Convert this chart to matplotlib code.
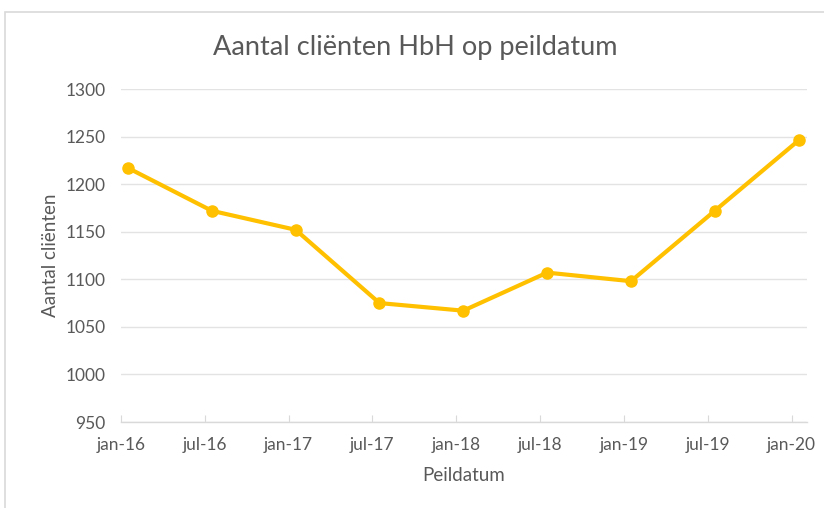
import matplotlib.pyplot as plt
from matplotlib.patches import Rectangle

# data (months since jan-16, points sit mid-month)
tick_labels = ['jan-16', 'jul-16', 'jan-17', 'jul-17', 'jan-18',
               'jul-18', 'jan-19', 'jul-19', 'jan-20']
tick_months = [0, 6, 12, 18, 24, 30, 36, 42, 48]
point_months = [0.5, 6.5, 12.5, 18.5, 24.5, 30.5, 36.5, 42.5, 48.5]
clients = [1217, 1172, 1152, 1075, 1067, 1107, 1098, 1172, 1246]

grey = '#595959'
gold = '#FFC000'

plt.rcParams['font.family'] = ['Lato', 'DejaVu Sans']

fig = plt.figure(figsize=(8.24, 5.08), dpi=100)
ax = fig.add_axes([121 / 824, 1 - 422 / 508, (807 - 121) / 824, (422 - 89) / 508])

# chart frame (cropped on right/bottom in the reference)
fig.patches.append(Rectangle((5 / 824, -0.1), 1.1, 1 - 12 / 508 + 0.1,
                             transform=fig.transFigure, fill=False,
                             edgecolor='#d9d9d9', linewidth=1.2))

ax.plot(point_months, clients, color=gold, linewidth=3, marker='o',
        markersize=8, zorder=3)

ax.set_xlim(0, 49.1)
ax.set_ylim(950, 1300)
ax.set_yticks(range(950, 1301, 50))
ax.set_xticks(tick_months)
ax.set_xticklabels(tick_labels)

ax.grid(axis='y', color='#e3e3e3', linewidth=1)
ax.set_axisbelow(True)
for side in ['top', 'right', 'left']:
    ax.spines[side].set_visible(False)
ax.spines['bottom'].set_color('#d9d9d9')
ax.spines['bottom'].set_linewidth(1)

ax.tick_params(axis='y', length=0, pad=11, labelsize=12.5, labelcolor=grey)
ax.tick_params(axis='x', direction='in', length=5, color='#d9d9d9',
               pad=11, labelsize=12.5, labelcolor=grey)

ax.set_xlabel('Peildatum', fontsize=13.5, color=grey, labelpad=10)
ax.set_ylabel('Aantal cliënten', fontsize=13.5, color=grey, labelpad=5)
fig.text(415 / 824, 1 - 47 / 508, 'Aantal cliënten HbH op peildatum',
         ha='center', va='center', fontsize=19.5, color=grey)

fig.savefig('out.png', dpi=100)
